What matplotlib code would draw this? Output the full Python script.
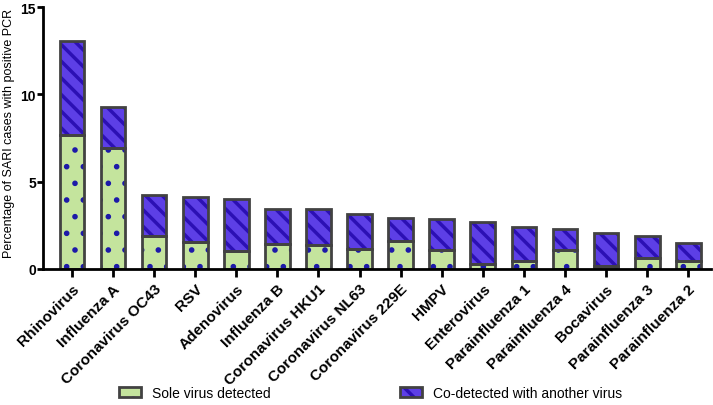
import numpy as np
import matplotlib
matplotlib.use('Agg')
import matplotlib.pyplot as plt
import matplotlib.patches as mpatches

plt.rcParams.update({
    'font.family': 'Liberation Sans',
    'hatch.linewidth': 2.5,
})

viruses = [
    'Rhinovirus', 'Influenza A', 'Coronavirus OC43', 'RSV', 'Adenovirus',
    'Influenza B', 'Coronavirus HKU1', 'Coronavirus NL63', 'Coronavirus 229E',
    'HMPV', 'Enterovirus', 'Parainfluenza 1', 'Parainfluenza 4', 'Bocavirus',
    'Parainfluenza 3', 'Parainfluenza 2',
]
sole = [7.65, 6.95, 1.88, 1.55, 1.05, 1.45, 1.40, 1.16, 1.60, 1.09,
        0.27, 0.48, 1.10, 0.15, 0.65, 0.48]
codetected = [5.42, 2.32, 2.35, 2.56, 2.95, 1.98, 2.02, 1.97, 1.34, 1.78,
              2.40, 1.90, 1.18, 1.94, 1.23, 1.00]

GREEN = '#c4e49d'
DOT = '#1d1aa8'
BLUE = '#5d3fe6'
STRIPE = '#2c10b4'
EDGE = '#424242'

x = np.arange(len(viruses))
width = 0.6

fig = plt.figure(figsize=(7.13, 4.06), dpi=100)
ax = fig.add_axes([0.060, 0.335, 0.937, 0.645])

# fill + hatch layers first, grey outlines on top
with plt.rc_context({'hatch.linewidth': 1.6}):
    ax.bar(x, sole, width, color=GREEN, edgecolor=DOT, linewidth=0, hatch='.')
    dot_handle = mpatches.Patch(facecolor=GREEN, edgecolor=DOT, linewidth=0, hatch='.')
ax.bar(x, codetected, width, bottom=sole, color=BLUE, edgecolor=STRIPE,
       linewidth=0, hatch='\\\\')
ax.bar(x, sole, width, fill=False, edgecolor=EDGE, linewidth=2)
ax.bar(x, codetected, width, bottom=sole, fill=False, edgecolor=EDGE, linewidth=2)

ax.set_xlim(-0.71, 15.55)
ax.set_ylim(0, 15)
ax.set_yticks([0, 5, 10, 15])
ax.set_xticks(x)
ax.set_xticklabels(viruses, rotation=45, ha='right', rotation_mode='anchor',
                   fontsize=11, fontweight='bold')
for lab in ax.get_yticklabels():
    lab.set_fontweight('bold')
    lab.set_fontsize(10)
ax.tick_params(axis='y', width=2, length=4, pad=1)
ax.tick_params(axis='x', width=2, length=6, pad=3)
ax.spines['top'].set_visible(False)
ax.spines['right'].set_visible(False)
ax.spines['left'].set_linewidth(2)
ax.spines['bottom'].set_linewidth(2)
ax.set_ylabel('Percentage of SARI cases with positive PCR', fontsize=9)
ax.yaxis.set_label_coords(-0.041, 0.52)

h1 = (dot_handle, mpatches.Patch(fill=False, edgecolor=EDGE, linewidth=2))
h2 = (mpatches.Patch(facecolor=BLUE, edgecolor=STRIPE, linewidth=0, hatch='\\\\'),
      mpatches.Patch(fill=False, edgecolor=EDGE, linewidth=2))
fig.legend([h1, h2], ['Sole virus detected', 'Co-detected with another virus'],
           loc='center', bbox_to_anchor=(0.52, 0.03), ncol=2, frameon=False,
           fontsize=10, handlelength=1.6, handleheight=0.8, handletextpad=0.8,
           columnspacing=9.3)

fig.savefig('out.png', dpi=100)
